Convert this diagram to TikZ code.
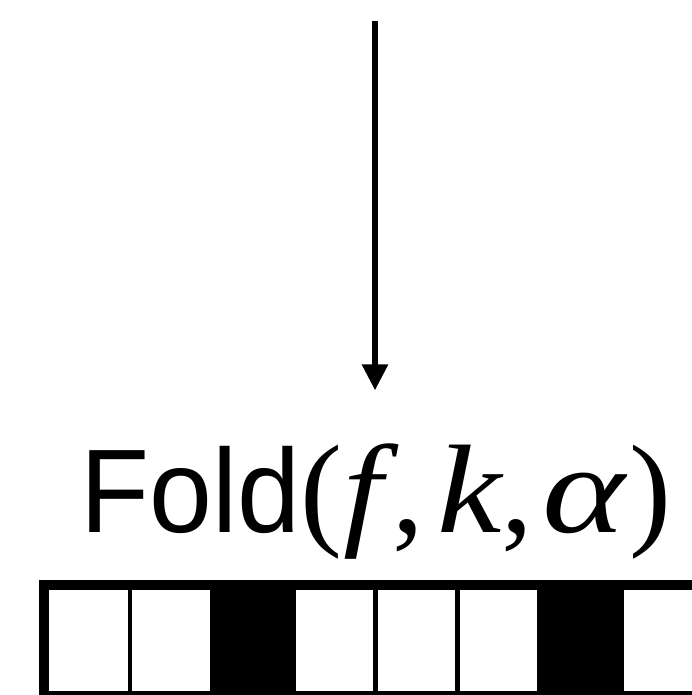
\documentclass[tikz,border=0pt]{standalone}
\usepackage{fontspec}
\usepackage{graphicx}
\newfontfamily\labelsans[FakeStretch=0.95]{Liberation Sans}
\newfontfamily\labelserif{Liberation Serif}
\usetikzlibrary{arrows.meta}

\tikzset{
  cell/.style={draw=black, fill=white, line width=4.7pt, minimum width=81.9pt,
    minimum height=110.7pt, inner sep=0pt, outer sep=0pt, anchor=west},
  marked/.style={fill=black},
  frame/.style={draw=black, line width=10pt},
  flow/.style={draw=black, line width=5.3pt, -{Triangle[length=26pt,width=25.3pt]}},
}
% wide italic variable
\newcommand{\wvar}[2]{\scalebox{#1}[1]{\textit{#2}}}

\begin{document}
\begin{tikzpicture}[x=1pt,y=-1pt]
  \useasboundingbox (0,0) rectangle (692,695);
  \clip (0,0) rectangle (692,695);

  % incoming arrow
  \coordinate (src) at (375,20.7);
  \coordinate (tip) at (375,390.3);
  \draw[flow] (src) -- (tip);

  % operation label
  \node[anchor=base west, inner sep=0pt] (fold) at (80,532)
    {\labelsans\fontsize{119}{119}\selectfont Fold%
     \labelserif\fontsize{126}{126}\selectfont(\kern1pt\wvar{1.12}{f}\kern-6pt,\kern13pt\wvar{1.15}{k}\kern-2pt,\kern10pt\wvar{1.25}{α}\kern1pt)};

  % tape of cells
  \node[cell, minimum width=85.7pt] (c1) at (44.3,640.65) {};
  \node[cell] (c2) at (130.0,640.65) {};
  \node[cell, marked] (c3) at (211.9,640.65) {};
  \node[cell] (c4) at (293.8,640.65) {};
  \node[cell] (c5) at (375.7,640.65) {};
  \node[cell] (c6) at (457.6,640.65) {};
  \node[cell, marked] (c7) at (539.5,640.65) {};
  \node[cell] (c8) at (621.4,640.65) {};
  \draw[frame] (c1.north west) rectangle (c8.south east);
\end{tikzpicture}
\end{document}
